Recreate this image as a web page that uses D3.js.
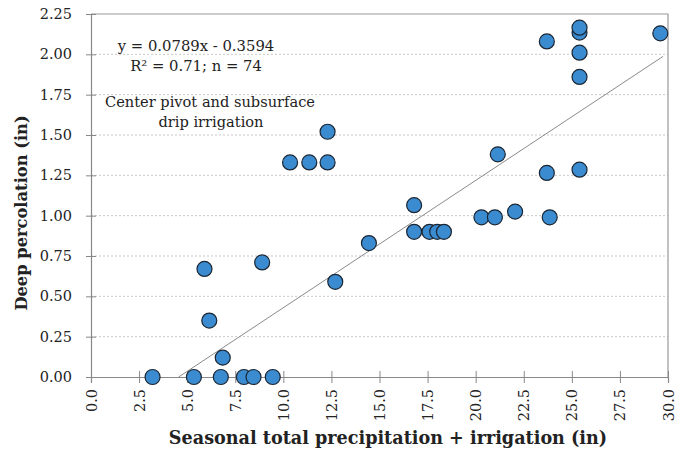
<!DOCTYPE html>
<html>
<head>
<meta charset="utf-8">
<script src="https://cdn.jsdelivr.net/npm/d3@7"></script>
<style>
  body { margin: 0; background: #fff; }
  svg { display: block; }
  text { font-family: "DejaVu Serif", Georgia, serif; fill: #222; }
</style>
</head>
<body>
<div id="chart"></div>
<script>
// Data
const waterIn = [3.2, 5.35, 6.75, 7.95, 8.45, 9.45, 6.85, 6.15, 5.9, 8.9,
  10.35, 11.35, 12.3, 12.3, 12.7, 14.45, 16.8, 16.8, 17.6, 18.0, 18.35,
  20.3, 21.0, 21.15, 22.05, 23.7, 23.85, 23.7, 25.4, 25.4, 25.4, 25.4, 25.4, 29.6];
const percolation = [0, 0, 0, 0, 0, 0, 0.12, 0.35, 0.67, 0.71,
  1.33, 1.33, 1.33, 1.52, 0.59, 0.83, 1.065, 0.90, 0.90, 0.90, 0.90,
  0.99, 0.99, 1.38, 1.025, 1.265, 0.99, 2.08, 1.285, 1.86, 2.01, 2.135, 2.165, 2.13];
const xTicks = [0, 2.5, 5, 7.5, 10, 12.5, 15, 17.5, 20, 22.5, 25, 27.5, 30];
const yTicks = [0, 0.25, 0.5, 0.75, 1.0, 1.25, 1.5, 1.75, 2.0, 2.25];
const slope = 0.0789, intercept = -0.3594;
const fitRange = [-intercept / slope, 29.75];
const annotation = ["y = 0.0789x - 0.3594", "R² = 0.71; n = 74"];
const note = ["Center pivot and subsurface", "drip irrigation"];
const xTitle = "Seasonal total precipitation + irrigation (in)";
const yTitle = "Deep percolation (in)";

const W = 680, H = 455;
const m = {left: 91, right: 12, top: 14, bottom: 78};
const iw = W - m.left - m.right, ih = H - m.top - m.bottom;

const svg = d3.select("#chart").append("svg").attr("width", W).attr("height", H);
const g = svg.append("g").attr("transform", `translate(${m.left},${m.top})`);

const x = d3.scaleLinear().domain([0, 30]).range([0, iw]);
const y = d3.scaleLinear().domain([0, 2.25]).range([ih, 0]);

// gridlines
g.append("g").selectAll("line").data(yTicks.filter(t => t > 0 && t < 2.25)).join("line")
  .attr("x1", 0).attr("x2", iw).attr("y1", d => y(d)).attr("y2", d => y(d))
  .attr("stroke", "#c8c8c8").attr("stroke-width", 1).attr("stroke-dasharray", "2,2");

// frame (top & right)
g.append("path").attr("d", `M0,0H${iw}V${ih}`).attr("fill", "none").attr("stroke", "#999").attr("stroke-width", 1.2);

// y axis
const ya = g.append("g").call(d3.axisLeft(y).tickValues(yTicks).tickFormat(d3.format(".2f")).tickSize(5).tickPadding(14));
ya.select(".domain").attr("stroke", "#888").attr("stroke-width", 1.2);
ya.selectAll(".tick line").attr("x1", 5).attr("stroke", "#888");
ya.selectAll(".tick text").attr("font-size", 14.5).attr("fill", "#222")
  .attr("font-family", "'DejaVu Serif', serif");

// x axis
const xa = g.append("g").attr("transform", `translate(0,${ih})`)
  .call(d3.axisBottom(x).tickValues(xTicks).tickFormat(d3.format(".1f")).tickSize(6));
xa.select(".domain").attr("stroke", "#888").attr("stroke-width", 1.2);
xa.selectAll(".tick line").attr("y1", -6).attr("stroke", "#888");
xa.selectAll(".tick text").attr("font-size", 14.5).attr("fill", "#222")
  .attr("font-family", "'DejaVu Serif', serif")
  .attr("transform", "rotate(-90)").attr("text-anchor", "end")
  .attr("x", -12).attr("y", 0).attr("dy", "0.35em");

// trend line
g.append("line")
  .attr("x1", x(fitRange[0])).attr("y1", y(slope * fitRange[0] + intercept))
  .attr("x2", x(fitRange[1])).attr("y2", y(slope * fitRange[1] + intercept))
  .attr("stroke", "#8a8a8a").attr("stroke-width", 1);

// points
const pts = waterIn.map((v, i) => ({x: v, y: percolation[i]}));
g.append("g").selectAll("circle").data(pts).join("circle")
  .attr("cx", d => x(d.x)).attr("cy", d => y(d.y)).attr("r", 7.5)
  .attr("fill", "#3b8bd0").attr("stroke", "#1b2633").attr("stroke-width", 1.2);

// annotations
svg.append("text").attr("x", 196).attr("y", 51).attr("text-anchor", "middle")
  .attr("font-size", 14.8).text(annotation[0]);
svg.append("text").attr("x", 196).attr("y", 71).attr("text-anchor", "middle")
  .attr("font-size", 14.8).text(annotation[1]);
svg.append("text").attr("x", 210).attr("y", 107).attr("text-anchor", "middle")
  .attr("font-size", 14.6).text(note[0]);
svg.append("text").attr("x", 211).attr("y", 127).attr("text-anchor", "middle")
  .attr("font-size", 14.6).text(note[1]);

// axis titles
svg.append("text").attr("x", 388).attr("y", 444).attr("text-anchor", "middle")
  .attr("font-size", 17.6).attr("font-weight", "bold").text(xTitle);
svg.append("text").attr("transform", "translate(27,213) rotate(-90)").attr("text-anchor", "middle")
  .attr("font-size", 16.3).attr("font-weight", "bold").text(yTitle);
</script>
</body>
</html>
